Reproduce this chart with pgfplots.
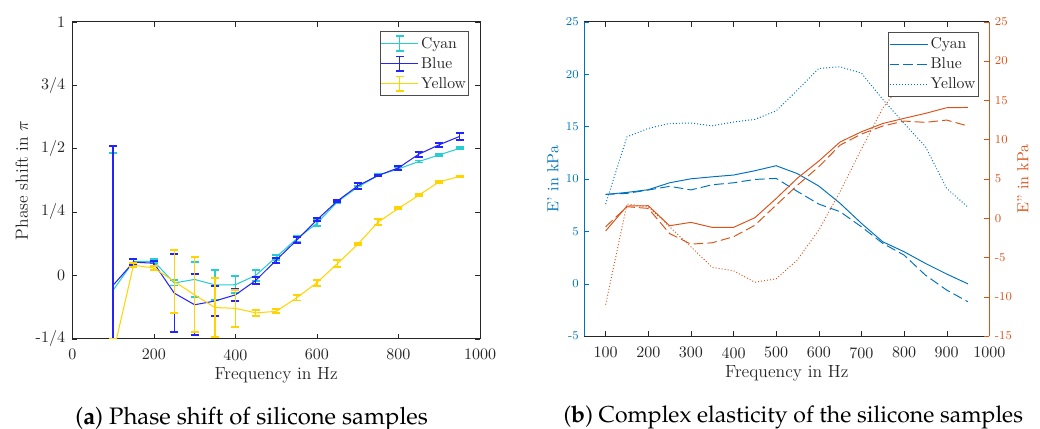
\documentclass[border=0pt]{standalone}
\usepackage{pgfplots}
\usepackage{pgfplotstable}
\pgfplotsset{compat=1.18}
\definecolor{cyc}{RGB}{40,205,210}
\definecolor{blc}{RGB}{35,35,250}
\definecolor{yec}{RGB}{255,212,0}
\definecolor{mb}{RGB}{0,114,189}
\definecolor{mo}{RGB}{217,83,25}
\definecolor{axc}{RGB}{38,38,38}

\pgfplotstableread{
x c ce b be y ye
100 -0.059 0.542 -0.039 0.548 -0.31 0.06
150 0.055 0.008 0.052 0.011 0.040 0.008
200 0.055 0.008 0.048 0.010 0.029 0.008
250 -0.030 0.010 -0.070 0.154 -0.024 0.125
300 -0.016 0.070 -0.116 0.120 -0.077 0.148
350 -0.038 0.058 -0.101 0.059 -0.127 0.116
400 -0.037 0.033 -0.077 0.023 -0.130 0.073
450 0.000 0.022 -0.020 0.013 -0.148 0.013
500 0.072 0.010 0.060 0.010 -0.142 0.008
550 0.144 0.012 0.138 0.012 -0.089 0.010
600 0.205 0.012 0.219 0.006 -0.029 0.012
650 0.290 0.006 0.293 0.005 0.046 0.013
700 0.348 0.006 0.353 0.012 0.122 0.004
750 0.394 0.004 0.394 0.003 0.210 0.012
800 0.420 0.006 0.424 0.008 0.264 0.004
850 0.449 0.004 0.478 0.010 0.316 0.004
900 0.475 0.004 0.515 0.008 0.369 0.004
950 0.501 0.004 0.548 0.015 0.390 0.003
}\phasedata

\pgfplotstableread{
x Ec Eb Ey Fc Fb Fy
100 8.52 8.52 7.60 -1.62 -1.09 -11.00
150 8.71 8.62 14.02 1.55 1.46 1.80
200 8.97 8.94 14.82 1.59 1.25 1.46
250 9.63 9.29 15.30 -0.96 -1.95 -1.09
300 10.01 8.95 15.33 -0.53 -3.30 -3.63
350 10.20 9.44 15.07 -1.17 -3.13 -6.26
400 10.37 9.63 15.43 -1.17 -2.36 -6.69
450 10.78 9.95 15.68 0.06 -0.90 -8.15
500 11.26 10.05 16.50 2.50 1.67 -7.72
550 10.50 8.80 18.48 5.10 4.20 -5.30
600 9.32 7.60 20.55 7.27 6.55 -1.51
650 7.67 6.87 20.70 9.70 9.30 3.37
700 5.76 5.43 20.10 11.00 10.71 8.80
750 4.00 3.85 17.60 12.05 11.73 14.00
800 3.05 2.73 15.30 12.71 12.36 17.50
850 1.94 0.82 13.10 13.34 12.20 19.00
900 0.92 -0.61 9.10 14.06 12.49 20.00
950 -0.02 -1.73 7.30 14.10 11.73 20.50
}\elastdata

\pgfplotsset{
  mystyle/.style={
    scale only axis,
    anchor=south west,
    tick align=inside,
    major tick length=3pt,
    tick label style={font=\fontsize{10}{12}\selectfont},
    label style={font=\fontsize{11}{13}\selectfont},
    legend cell align=left,
  },
  mylegend/.style={
    legend style={at={(1,1)}, anchor=north east, xshift=-6.7pt, yshift=-6pt,
      font=\fontsize{9.8}{11.5}\selectfont, draw=black!70, line width=0.5pt,
      inner xsep=0.3pt, inner ysep=1.8pt, row sep=1.2pt, nodes={inner sep=1.5pt}, text=axc},
  },
}

\begin{document}
\begin{tikzpicture}
\useasboundingbox (0,0) rectangle (650pt,268.125pt);

% ---------------- (a) phase shift ----------------
\begin{axis}[mystyle, mylegend,
  at={(45.2pt,56.4pt)}, width=254.8pt, height=198.1pt,
  xmin=0, xmax=1000, ymin=-0.25, ymax=1,
  xtick={0,200,400,600,800,1000},
  xticklabels={0,200,400,600,800,1000},
  ytick={-0.25,0,0.25,0.5,0.75,1},
  yticklabels={-1/4,0,1/4,1/2,3/4,1},
  axis line style={draw=axc},
  tick style={draw=axc},
  tick label style={text=axc},
  xticklabel style={yshift=-3pt},
  yticklabel style={xshift=-1pt},
  xlabel={Frequency in Hz},
  ylabel={Phase shift in $\pi$},
  xlabel style={at={(axis description cs:0.5,0)}, anchor=base, yshift=-25.4pt, text=axc},
  ylabel style={at={(axis description cs:-0.124,0.5)}, anchor=center, text=axc},
]
\addlegendimage{legend image code/.code={
  \draw[draw=cyc, line width=0.65pt] (0pt,0pt) -- (23pt,0pt);
  \draw[draw=cyc, line width=0.8pt] (11.5pt,-4.6pt) -- (11.5pt,4.6pt);
  \draw[draw=cyc, line width=1.2pt] (9.2pt,-4.6pt) -- (13.8pt,-4.6pt) (9.2pt,4.6pt) -- (13.8pt,4.6pt);}}
\addlegendentry{Cyan}
\addlegendimage{legend image code/.code={
  \draw[draw=blc, line width=0.65pt] (0pt,0pt) -- (23pt,0pt);
  \draw[draw=blc, line width=0.8pt] (11.5pt,-4.6pt) -- (11.5pt,4.6pt);
  \draw[draw=blc, line width=1.2pt] (9.2pt,-4.6pt) -- (13.8pt,-4.6pt) (9.2pt,4.6pt) -- (13.8pt,4.6pt);}}
\addlegendentry{Blue}
\addlegendimage{legend image code/.code={
  \draw[draw=yec, line width=0.65pt] (0pt,0pt) -- (23pt,0pt);
  \draw[draw=yec, line width=0.8pt] (11.5pt,-4.6pt) -- (11.5pt,4.6pt);
  \draw[draw=yec, line width=1.2pt] (9.2pt,-4.6pt) -- (13.8pt,-4.6pt) (9.2pt,4.6pt) -- (13.8pt,4.6pt);}}
\addlegendentry{Yellow}
\addplot[color=cyc, line width=0.65pt, mark=none, forget plot,
  error bars/.cd, y dir=both, y explicit,
  error bar style={color=cyc, line width=0.8pt},
  error mark options={rotate=90, mark size=2.5pt, line width=1.2pt, color=cyc}]
  table[x=x, y=c, y error=ce] {\phasedata};
\addplot[color=blc, line width=0.65pt, mark=none, forget plot,
  error bars/.cd, y dir=both, y explicit,
  error bar style={color=blc, line width=0.8pt},
  error mark options={rotate=90, mark size=2.5pt, line width=1.2pt, color=blc}]
  table[x=x, y=b, y error=be] {\phasedata};
\addplot[color=yec, line width=0.65pt, mark=none, forget plot,
  error bars/.cd, y dir=both, y explicit,
  error bar style={color=yec, line width=0.8pt},
  error mark options={rotate=90, mark size=2.5pt, line width=1.2pt, color=yec}]
  table[x=x, y=y, y error=ye] {\phasedata};
\end{axis}

% ---------------- (b) complex elasticity ----------------
\begin{axis}[mystyle,
  at={(365.2pt,58.1pt)}, width=253.1pt, height=196.4pt,
  xmin=50, xmax=1000, ymin=-5, ymax=25,
  axis y line*=left,
  ytick pos=left,
  xtick={100,200,...,1000},
  xticklabels={100,200,300,400,500,600,700,800,900,1000},
  ytick={-5,0,5,10,15,20,25},
  yticklabels={-5,0,5,10,15,20,25},
  x axis line style={draw=axc},
  y axis line style={draw=mb, -},
  xtick style={draw=axc},
  ytick style={draw=mb},
  xticklabel style={text=axc, yshift=-3.5pt},
  yticklabel style={text=mb, font=\fontsize{7.5}{9}\selectfont},
  xlabel={Frequency in Hz},
  ylabel={E' in kPa},
  xlabel style={at={(axis description cs:0.5,0)}, anchor=base, yshift=-26pt, text=axc},
  ylabel style={at={(axis description cs:-0.0774,0.5)}, anchor=center, text=mb, font=\fontsize{10}{12}\selectfont},
]
\addplot[draw=mb, line width=0.6pt, mark=none] table[x=x, y=Ec] {\elastdata};
\addplot[draw=mb, line width=0.6pt, mark=none, dash pattern=on 6pt off 2.6pt] table[x=x, y=Eb] {\elastdata};
\addplot[draw=mb, line width=0.6pt, mark=none, dash pattern=on 0.6pt off 1.3pt] table[x=x, y=Ey] {\elastdata};
\end{axis}

\begin{axis}[mystyle, mylegend,
  at={(365.2pt,58.1pt)}, width=253.1pt, height=196.4pt,
  xmin=50, xmax=1000, ymin=-15, ymax=25,
  axis y line*=right,
  axis x line=none,
  ytick pos=right,
  ytick={-15,-10,-5,0,5,10,15,20,25},
  yticklabels={-15,-10,-5,0,5,10,15,20,25},
  y axis line style={draw=mo, -},
  ytick style={draw=mo},
  yticklabel style={text=mo, font=\fontsize{7.5}{9}\selectfont},
  ylabel={E'' in kPa},
  ylabel style={at={(axis description cs:1.083,0.5)}, anchor=center, text=mo, font=\fontsize{10}{12}\selectfont},
  legend style={xshift=0.1pt, yshift=-0.25pt},
]
\addlegendimage{legend image code/.code={\draw[draw=mb, line width=0.6pt] (0pt,0pt) -- (23.8pt,0pt);}}
\addlegendentry{Cyan}
\addlegendimage{legend image code/.code={\draw[draw=mb, line width=0.6pt, dash pattern=on 6pt off 2.6pt] (0pt,0pt) -- (23.8pt,0pt);}}
\addlegendentry{Blue}
\addlegendimage{legend image code/.code={\draw[draw=mb, line width=0.6pt, dash pattern=on 0.6pt off 1.3pt] (0pt,0pt) -- (23.8pt,0pt);}}
\addlegendentry{Yellow}
\addplot[draw=mo, line width=0.6pt, mark=none, forget plot] table[x=x, y=Fc] {\elastdata};
\addplot[draw=mo, line width=0.6pt, mark=none, forget plot, dash pattern=on 6pt off 2.6pt] table[x=x, y=Fb] {\elastdata};
\addplot[draw=mo, line width=0.6pt, mark=none, forget plot, dash pattern=on 0.6pt off 1.3pt] table[x=x, y=Fy] {\elastdata};
\end{axis}

\node[anchor=base, font=\fontencoding{OT1}\fontfamily{ppl}\fontsize{14.9}{17}\selectfont] at (157.3pt,3.0pt) {(\textbf{a}) Phase shift of silicone samples};
\node[anchor=base, font=\fontencoding{OT1}\fontfamily{ppl}\fontsize{14.4}{17}\selectfont] at (495.8pt,4.3pt) {(\textbf{b}) Complex elasticity of the silicone samples};
\end{tikzpicture}
\end{document}
